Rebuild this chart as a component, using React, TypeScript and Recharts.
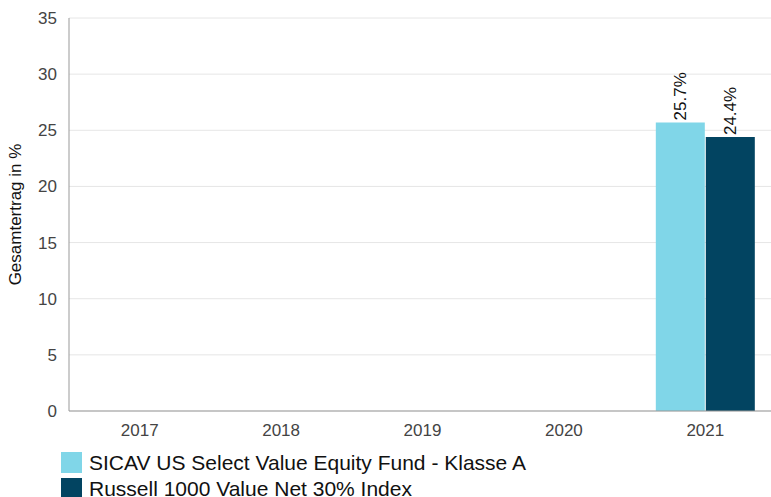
import { BarChart, Bar, XAxis, YAxis, CartesianGrid, Legend, LabelList } from "recharts";

const jahre = ["2017", "2018", "2019", "2020", "2021"];
const fonds = [null, null, null, null, 25.7];
const index = [null, null, null, null, 24.4];
const yTicks = [0, 5, 10, 15, 20, 25, 30, 35];

const fondsName = "SICAV US Select Value Equity Fund - Klasse A";
const indexName = "Russell 1000 Value Net 30% Index";
const hell = "#80d6e8";
const dunkel = "#024461";

const data = jahre.map((j, i) => ({ jahr: j, fonds: fonds[i], index: index[i] }));

// rotierte Prozent-Labels ueber den Balken
const RotLabel = (props: any) => {
  const { x, y, width, value } = props;
  if (value == null) return null;
  const cx = x + width / 2;
  return (
    <text
      x={cx}
      y={y - 2}
      transform={`rotate(-90 ${cx} ${y - 2})`}
      textAnchor="start"
      dominantBaseline="central"
      fontSize={17}
      fill="#111"
    >
      {`${value.toFixed(1)}%`}
    </text>
  );
};

const LegendBox = () => (
  <div style={{ height: 56, paddingTop: 11, paddingLeft: 61, boxSizing: "border-box", fontFamily: "Liberation Sans, Arial, sans-serif" }}>
    {[
      { name: fondsName, color: hell },
      { name: indexName, color: dunkel },
    ].map((e) => (
      <div key={e.name} style={{ display: "flex", alignItems: "center", height: 21, marginBottom: 5, fontSize: 21, lineHeight: "21px", color: "#111" }}>
        <span style={{ width: 21, height: 21, background: e.color, marginRight: 7, display: "inline-block", flexShrink: 0 }} />
        {e.name}
      </div>
    ))}
  </div>
);

export default function App() {
  return (
    <div style={{ position: "absolute", top: 0, left: 0, width: 771, height: 497, overflow: "hidden", background: "#fff", fontFamily: "Liberation Sans, Arial, sans-serif" }}>
      <BarChart
        width={776}
        height={497}
        data={data}
        margin={{ top: 18, right: 0, left: 0, bottom: 0 }}
        barCategoryGap="15%"
        barGap={1}
      >
        <CartesianGrid vertical={false} stroke="#e6e6e6" />
        <XAxis
          dataKey="jahr"
          tickLine={false}
          axisLine={{ stroke: "#999" }}
          tick={{ fontSize: 17, fill: "#444" }}
          tickMargin={7}
          height={30}
        />
        <YAxis
          domain={[0, 35]}
          ticks={yTicks}
          width={69}
          tickLine={false}
          axisLine={{ stroke: "#999" }}
          tick={{ fontSize: 17, fill: "#444" }}
          tickMargin={6}
          label={{ value: "Gesamtertrag in %", angle: -90, position: "insideLeft", dx: 10, fontSize: 17, fill: "#111", style: { textAnchor: "middle" } }}
        />
        <Legend verticalAlign="bottom" align="left" content={LegendBox} wrapperStyle={{ left: 0, width: 771 }} />
        <Bar dataKey="fonds" name={fondsName} fill={hell} isAnimationActive={false}>
          <LabelList dataKey="fonds" content={RotLabel} />
        </Bar>
        <Bar dataKey="index" name={indexName} fill={dunkel} isAnimationActive={false}>
          <LabelList dataKey="index" content={RotLabel} />
        </Bar>
      </BarChart>
    </div>
  );
}
